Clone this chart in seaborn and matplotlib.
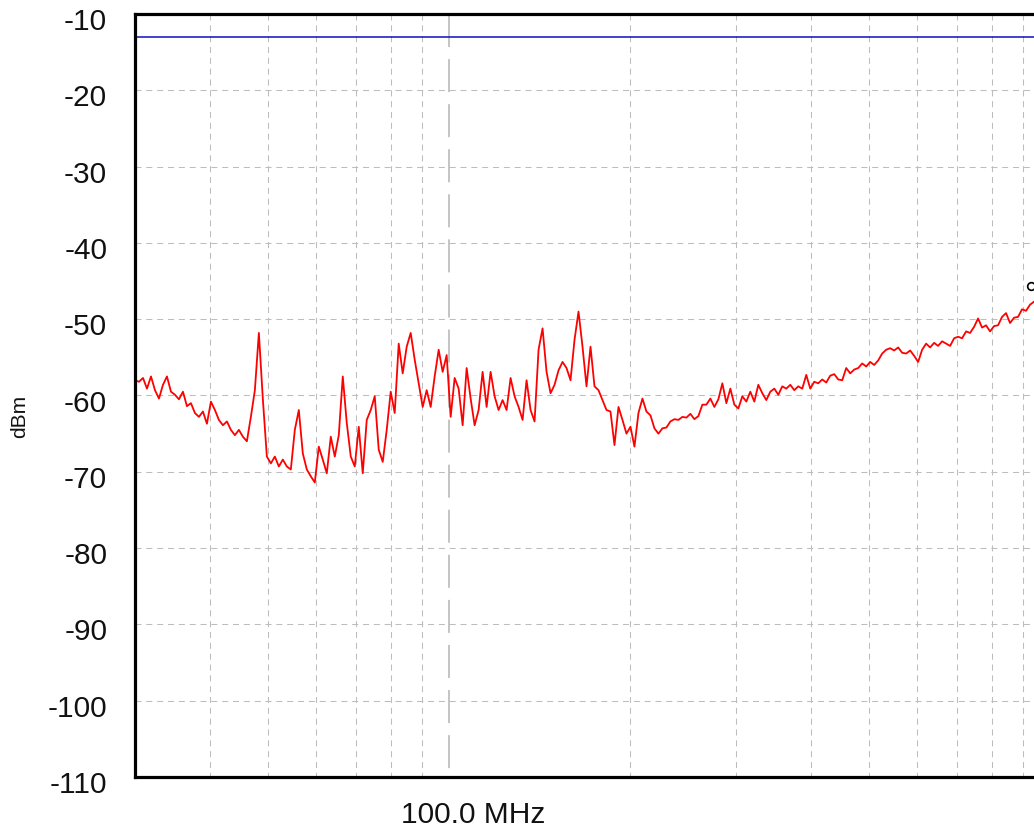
import numpy as np
import pandas as pd
import matplotlib
matplotlib.use("Agg")
import matplotlib.pyplot as plt
import matplotlib.transforms as mtransforms
from matplotlib.ticker import NullLocator, NullFormatter
import seaborn as sns

# Sweep settings of the spectrum trace (log-spaced sweep points)
SWEEP_START_MHZ = 30.0
SWEEP_STOP_MHZ = 1000.0

# Measured level at each sweep point (dBm)
LEVEL_DBM = [
    -58.0, -58.2, -57.7, -59.1, -57.5, -59.3, -60.4, -58.6, -57.5, -59.5,
    -59.9, -60.5, -59.5, -61.4, -61.0, -62.3, -62.8, -62.1, -63.7, -60.8,
    -61.9, -63.2, -63.9, -63.4, -64.5, -65.2, -64.5, -65.4, -66.0, -62.8,
    -59.3, -51.8, -60.5, -68.0, -68.9, -68.0, -69.3, -68.4,
    -69.3, -69.7, -64.5, -61.9, -67.6, -69.7, -70.6, -71.4, -66.7, -68.4,
    -70.2, -65.4, -68.0, -65.2, -57.5, -63.6, -68.0, -69.3, -64.1, -70.2,
    -63.2, -61.9, -60.1, -67.1, -68.7, -64.5, -59.5, -62.3, -53.2, -57.1,
    -53.6, -51.8, -55.3, -58.4, -61.5, -59.3, -61.5,
    -57.5, -54.0, -56.9, -54.7, -62.8, -57.7, -59.1, -63.9, -56.4, -60.4,
    -63.9, -61.9, -56.9, -61.5, -56.9, -60.1, -61.9, -60.6, -61.9, -57.7,
    -60.1, -61.5, -63.2, -58.0, -61.9, -63.4, -54.0, -51.2, -56.9, -59.7,
    -58.6, -56.7, -55.6, -56.4, -58.0, -52.7, -49.0, -53.6,
    -58.8, -53.6, -58.8, -59.3, -60.6, -61.9, -62.1, -66.5, -61.5, -63.2,
    -65.0, -64.1, -66.7, -62.3, -60.4, -62.1, -62.6, -64.3, -65.0, -64.3,
    -64.2, -63.4, -63.1, -63.2, -62.8, -62.9, -62.4, -63.1, -62.7, -61.2,
    -61.2, -60.4, -61.5, -60.5, -58.4, -61.0, -59.1,
    -61.2, -61.7, -60.1, -60.8, -59.5, -60.8, -58.6, -59.7, -60.6, -59.5,
    -59.1, -59.9, -58.8, -59.1, -58.6, -59.3, -58.8, -59.1, -57.3, -59.1,
    -58.2, -58.4, -57.9, -58.3, -57.4, -57.2, -57.9, -58.0, -56.4, -57.1,
    -56.6, -56.4, -55.8, -56.2, -55.6, -56.0, -55.4, -54.5,
    -54.0, -53.8, -54.1, -53.7, -54.4, -54.5, -54.1, -54.8, -55.6, -54.0,
    -53.2, -53.7, -53.1, -53.5, -52.9, -53.2, -53.5, -52.5, -52.3, -52.5,
    -51.6, -51.8, -51.0, -49.9, -51.1, -50.8, -51.6, -50.9, -50.8, -49.7,
    -49.2, -50.5, -49.8, -49.7, -48.7, -48.9, -48.1, -47.7, -47.9, -47.2,
    -47.6, -47.0,
]

LIMIT_DBM = -13.0          # horizontal limit line
MARKER_MHZ = 929.0         # trace marker
MARKER_DBM = -45.6

Y_TICKS = [-10, -20, -30, -40, -50, -60, -70, -80, -90, -100, -110]
X_TICKS_MHZ = [100.0]
X_TICK_LABELS = ["100.0 MHz"]
MINOR_GRID_MHZ = [40, 50, 60, 70, 80, 90, 200, 300, 400, 500, 600, 700, 800, 900]
MAJOR_GRID_MHZ = [100]

freq_mhz = np.geomspace(SWEEP_START_MHZ, SWEEP_STOP_MHZ, len(LEVEL_DBM))
trace = pd.DataFrame({"Frequency (MHz)": freq_mhz, "Level (dBm)": LEVEL_DBM})

sns.set_theme(style="white")
plt.rcParams["font.family"] = ["Liberation Sans", "DejaVu Sans"]

W, H = 1034, 830
fig = plt.figure(figsize=(W / 100, H / 100), dpi=100)
fig.patch.set_facecolor("white")
# plot area runs a little past the right edge of the canvas
ax = fig.add_axes([135 / W, 53 / H, 915 / W, 763 / H])
ax.set_facecolor("white")

grid_color = "#bdbdbd"
fine_dash = (0, (5.8, 4.6))

# horizontal grid
for yv in Y_TICKS[1:-1]:
    ax.plot([SWEEP_START_MHZ, SWEEP_STOP_MHZ], [yv, yv], color=grid_color,
            lw=0.75, ls=fine_dash, zorder=1)
# vertical grid, drawn top to bottom
for fv in MINOR_GRID_MHZ:
    ax.plot([fv, fv], [Y_TICKS[0], Y_TICKS[-1]], color=grid_color,
            lw=0.75, ls=fine_dash, zorder=1)
for fv in MAJOR_GRID_MHZ:
    ax.plot([fv, fv], [Y_TICKS[0], Y_TICKS[-1]], color="#b4b4b4",
            lw=1.1, ls=(0, (21.6, 7.9)), zorder=1)

# limit line
ax.axhline(LIMIT_DBM, color="#1010c0", lw=1.1, zorder=2)

# spectrum trace
sns.lineplot(data=trace, x="Frequency (MHz)", y="Level (dBm)", ax=ax,
             color="#ff0000", linewidth=1.3, estimator=None, sort=False,
             legend=False, zorder=3)

# trace marker
ax.plot([MARKER_MHZ], [MARKER_DBM], marker="o", ms=5.5, mfc="none",
        mec="black", mew=1.2, ls="none", zorder=4)

ax.set_xscale("log")
ax.set_xlim(SWEEP_START_MHZ, SWEEP_STOP_MHZ)
ax.set_ylim(Y_TICKS[-1], Y_TICKS[0])

ax.set_yticks(Y_TICKS)
ax.set_yticklabels([str(v) for v in Y_TICKS])
ax.set_xticks(X_TICKS_MHZ)
ax.set_xticklabels(X_TICK_LABELS)
ax.xaxis.set_minor_locator(NullLocator())
ax.xaxis.set_minor_formatter(NullFormatter())
ax.tick_params(axis="both", which="both", length=0, labelsize=21.5,
               colors="#111111")
ax.tick_params(axis="y", pad=20)
ax.tick_params(axis="x", pad=17)

dy = mtransforms.ScaledTranslation(0, -5 / 100, fig.dpi_scale_trans)
for lab in ax.get_yticklabels():
    lab.set_transform(lab.get_transform() + dy)
dx = mtransforms.ScaledTranslation(24 / 100, 0, fig.dpi_scale_trans)
for lab in ax.get_xticklabels():
    lab.set_transform(lab.get_transform() + dx)

ax.set_xlabel("")
ax.set_ylabel("")
fig.text(20 / W, 1 - 416 / H, "dBm", rotation=90, fontsize=15,
         ha="center", va="center", color="#111111")

for side in ["left", "right", "top", "bottom"]:
    ax.spines[side].set_visible(True)
    ax.spines[side].set_color("black")
    ax.spines[side].set_linewidth(2.3)
    ax.spines[side].set_zorder(5)

fig.savefig("out.png", dpi=100, facecolor="white")
